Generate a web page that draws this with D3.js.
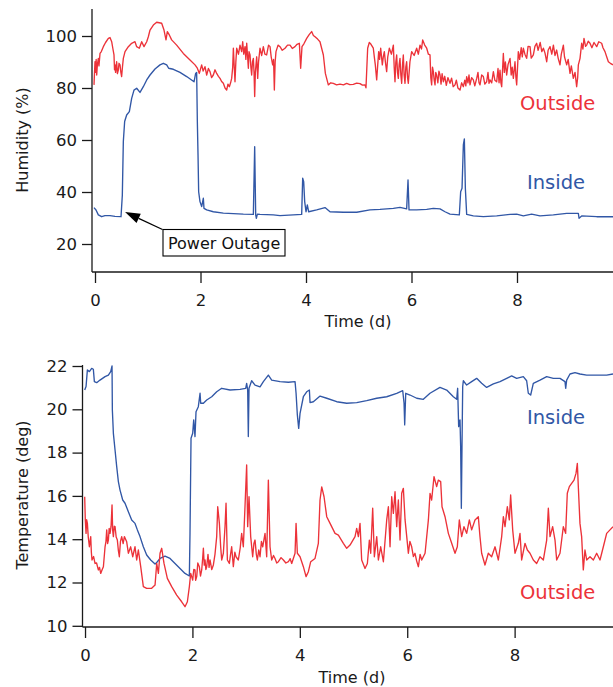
<!DOCTYPE html>
<html>
<head>
<meta charset="utf-8">
<script src="https://cdn.jsdelivr.net/npm/d3@7"></script>
<style>
  html, body { margin: 0; padding: 0; background: #fff; }
  svg { display: block; font-family: "DejaVu Sans", sans-serif; }
  .axis text { fill: #1a1a1a; }
</style>
</head>
<body>
<svg id="chart" width="613" height="687"></svg>
<script>
// ---- Humidity (%) vs time (days) ----
const humidityOutside = [
  [-0.019,81.2],[-0.005,88],[0,90.1],[0.012,86],[0.022,91],[0.032,85],[0.045,89],[0.063,91.4],[0.075,88.5],
  [0.095,93.3],[0.12,94],[0.158,95.9],[0.2,97.5],[0.253,99.1],[0.284,99.4],[0.316,97.8],[0.34,95],[0.36,92.7],
  [0.37,87],[0.379,88.9],[0.39,86],[0.41,90.1],[0.425,85.5],[0.442,86.9],[0.455,89.5],[0.474,88.9],[0.49,86],
  [0.505,84.4],[0.52,88],[0.537,91.4],[0.569,94],[0.632,95.9],
  [0.695,97.2],[0.758,97.8],[0.79,95.9],[0.84,95.3],[0.885,97.8],[0.929,95.9],[0.98,97.8],[1.011,99.7],[1.043,102.3],
  [1.106,104.2],[1.169,105.3],[1.264,104.9],[1.308,102.3],[1.346,98.5],[1.371,101.7],[1.409,100.4],[1.453,98.5],
  [1.548,96.5],[1.674,93.3],[1.801,90.8],[1.896,88.9],[1.94,87.6],[1.978,85.6],[2.022,88.9],[2.05,86.5],[2.085,88.2],
  [2.117,85],[2.15,87.5],[2.18,86.3],[2.21,84],[2.243,85],[2.275,87],[2.306,85.6],[2.34,84.5],[2.37,83.7],
  [2.4,82.5],[2.433,81.8],[2.465,80],[2.496,79.2],[2.52,81.5],[2.547,80.5],[2.57,82],[2.591,83.7],[2.61,88],
  [2.623,95.3],[2.64,88],[2.654,82.4],[2.67,90],[2.686,95.3],[2.72,93],[2.749,96.5],[2.78,94],[2.8,97.8],
  [2.82,93],[2.844,95.9],[2.86,91],[2.876,97.2],[2.89,93],[2.907,87.6],[2.92,94],[2.939,92.7],[2.955,88],
  [2.97,85],[2.985,90],[3.002,91.4],[3.015,86],[3.027,76.7],[3.04,86],[3.052,88.9],[3.065,92],[3.084,83.7],
  [3.1,90],[3.128,95.3],[3.16,92.5],[3.191,95.9],[3.22,93],[3.254,92.7],[3.29,96.5],[3.318,95.9],[3.34,92],
  [3.368,88.9],[3.385,91],[3.4,79.2],[3.415,90],[3.431,94],[3.47,96.5],[3.507,95.9],[3.55,94.5],[3.602,95.3],
  [3.65,96.5],[3.697,96.5],[3.74,95.2],[3.791,95.9],[3.83,96.8],[3.874,97.2],[3.899,87.6],[3.924,95.9],
  [3.96,97],[4.013,99.1],[4.06,100.5],[4.107,101.7],[4.14,100.2],[4.171,99.7],[4.22,98.8],[4.265,97.8],[4.329,92.7],
  [4.367,85.6],[4.423,81.2],[4.47,82],[4.518,81.8],[4.58,81.2],[4.645,81.5],[4.71,81.2],[4.771,81.8],[4.83,81.3],
  [4.897,81.4],[4.96,81.9],[5.024,81.7],[5.07,81.1],[5.118,81.2],[5.137,80.1],[5.169,95.3],[5.2,97.5],[5.232,96.8],
  [5.276,95.3],[5.295,92],[5.314,88.9],[5.34,83.1],[5.36,89],[5.378,94],[5.395,91],[5.416,95.3],[5.447,88.9],
  [5.465,92],[5.485,94],[5.505,90],[5.529,86.3],[5.55,92],[5.58,95.3],[5.62,93],[5.656,96.5],[5.672,88],
  [5.687,82.4],[5.703,90],[5.719,92.7],[5.735,86],[5.75,83.7],[5.766,89],[5.782,91.4],[5.798,85],[5.814,81.8],
  [5.83,89],[5.845,92.7],[5.86,85],[5.877,81.8],[5.892,88],[5.908,90.1],[5.925,84],[5.94,81.8],[5.97,90],
  [6.003,94],[6.05,92.5],[6.098,95.3],[6.13,93],[6.161,96.5],[6.19,95],[6.212,98.5],[6.25,96.5],[6.288,95.3],
  [6.32,93],[6.351,92.7],[6.366,84],[6.382,81.2],[6.398,88],[6.414,86.3],[6.43,83],[6.446,81.2],[6.46,86],
  [6.477,85],[6.5,82],[6.52,86.5],[6.541,85],[6.56,81.5],[6.58,85.5],[6.604,82.4],[6.63,84.5],[6.66,81],
  [6.69,84],[6.73,81.8],[6.76,83.8],[6.79,80.5],[6.825,81.2],[6.85,83],[6.88,80],[6.92,79.2],[6.95,82],
  [6.983,80.5],[7.01,83],[7.03,80.8],[7.046,84.4],[7.07,82],[7.09,85],[7.109,81.2],[7.14,84],[7.172,83.1],
  [7.2,80.8],[7.236,83.7],[7.26,86],[7.28,82],[7.299,81.2],[7.33,85],[7.362,84.4],[7.39,81.5],[7.425,82.4],
  [7.45,86],[7.47,81.8],[7.488,83.1],[7.52,82],[7.552,86.3],[7.58,83],[7.615,82.4],[7.64,87.5],[7.66,82],
  [7.678,86.9],[7.695,82],[7.71,80.5],[7.741,93.3],[7.76,86],[7.78,90],[7.804,85],[7.83,89],[7.868,91.4],
  [7.89,85],[7.91,88],[7.931,83.7],[7.962,90.1],[7.98,84],[7.994,81.2],[8.025,94],[8.05,91],[8.08,95.5],
  [8.1,92],[8.12,95.3],[8.15,93],[8.183,91.4],[8.21,96],[8.247,95.9],[8.27,91.5],[8.31,92.7],[8.34,96],
  [8.373,97.2],[8.4,94.5],[8.44,97.5],[8.47,94],[8.5,95.3],[8.53,93.5],[8.563,90.1],[8.59,94.5],[8.626,95.9],
  [8.66,93],[8.69,96.5],[8.72,92.5],[8.752,94.6],[8.78,91.5],[8.815,88.9],[8.84,93],[8.879,96.5],[8.9,92],
  [8.942,88.9],[8.97,91],[9.005,85.6],[9.03,88.5],[9.068,83.7],[9.1,86],[9.131,80.5],[9.15,84],[9.163,88.9],
  [9.195,91.4],[9.226,97.2],[9.25,95],[9.27,99.1],[9.3,96],[9.321,96.5],[9.35,98],[9.384,97.2],[9.42,95.5],
  [9.46,97.5],[9.511,95.9],[9.55,97.8],[9.605,97.2],[9.63,95.5],[9.668,94],[9.7,92],[9.732,90.1],[9.77,89.5],
  [9.82,88.9]
];

const humidityInside = [
  [-0.019,34],[0.019,33.1],[0.063,31.2],[0.126,30.5],[0.189,30.9],[0.284,30.9],[0.379,30.6],[0.493,30.5],[0.518,38.8],
  [0.537,59.4],[0.562,67.1],[0.6,69.6],[0.651,70.9],[0.695,76],[0.739,79.2],[0.79,79.9],[0.853,78.3],[0.916,80.5],
  [0.98,83.1],[1.043,85],[1.137,87.3],[1.232,88.9],[1.295,89.5],[1.359,88.9],[1.396,87.6],[1.485,87.2],[1.611,86],
  [1.738,84.4],[1.877,82.4],[1.908,85.6],[1.927,86],[1.94,67.1],[1.953,54.2],[1.965,40.1],[1.99,36.3],[2.022,34.4],
  [2.054,37.6],[2.066,33.7],[2.117,33.1],[2.243,32.4],[2.433,31.9],[2.623,31.7],[2.812,31.5],[3.002,31.4],[3.027,57.4],
  [3.046,31.2],[3.059,29.9],[3.078,31.5],[3.128,31.4],[3.381,31.2],[3.507,30.9],[3.76,31.2],[3.918,31.4],[3.937,45.3],
  [3.956,44],[3.975,36.3],[4.0,32.4],[4.025,35],[4.051,32.4],[4.202,33.1],[4.36,34],[4.455,32.4],[4.708,32.2],
  [4.961,32.2],[5.213,33.1],[5.403,33.3],[5.656,33.7],[5.782,34.1],[5.908,33.5],[5.934,44.6],[5.953,33.1],[6.098,33.1],
  [6.288,33.3],[6.414,33.7],[6.541,33.5],[6.635,32.4],[6.73,31.5],[6.907,31.2],[6.932,40.1],[6.958,41.4],[6.983,58.1],
  [7.002,60.4],[7.021,41.4],[7.046,31.4],[7.172,30.8],[7.362,30.5],[7.615,30.8],[7.868,31.4],[7.994,31.5],[8.12,30.8],
  [8.278,31.5],[8.436,30.8],[8.689,31.2],[8.942,31.8],[9.163,31.8],[9.176,29.9],[9.226,30.8],[9.511,30.5],[9.82,30.5]
];

// ---- Temperature (deg) vs time (days) ----
const temperatureInside = [
  [-0.006,20.89],[0.019,21.05],[0.044,21.82],[0.081,21.74],[0.124,21.89],[0.155,21.85],[0.174,21.28],[0.217,21.23],
  [0.279,21.35],[0.373,21.51],[0.435,21.58],[0.478,21.74],[0.503,22],[0.509,19.97],[0.528,18.89],[0.559,18.12],
  [0.59,17.35],[0.621,16.66],[0.652,16.27],[0.702,15.81],[0.745,15.66],[0.807,15.27],[0.869,14.89],[0.931,14.73],
  [0.975,14.43],[1.024,14.12],[1.086,13.65],[1.148,13.27],[1.223,13.04],[1.304,12.85],[1.347,12.96],[1.397,13.11],
  [1.49,13.22],[1.583,13.11],[1.676,12.88],[1.769,12.65],[1.862,12.42],[1.943,12.3],[1.955,14.27],[1.974,18.66],
  [2.005,18.89],[2.024,19.51],[2.048,18.74],[2.067,19.89],[2.11,20.12],[2.142,20.74],[2.154,20.28],[2.204,20.28],
  [2.266,20.43],[2.359,20.58],[2.452,20.81],[2.545,20.97],[2.7,20.89],[2.886,20.92],[2.992,20.97],[3.01,21.2],
  [3.029,20.89],[3.041,18.74],[3.054,20.97],[3.103,21.32],[3.166,21.12],[3.259,21.04],[3.321,21.28],[3.414,21.58],
  [3.476,21.35],[3.632,21.28],[3.787,21.25],[3.911,21.28],[3.93,20.74],[3.954,19.74],[3.979,19.12],[4.004,19.81],
  [4.066,20.58],[4.128,20.81],[4.178,20.89],[4.19,20.31],[4.252,20.35],[4.377,20.61],[4.501,20.51],[4.687,20.35],
  [4.873,20.28],[5.059,20.31],[5.245,20.4],[5.432,20.51],[5.618,20.58],[5.804,20.74],[5.916,20.86],[5.941,20.28],
  [5.953,19.28],[5.972,20.74],[6.052,20.66],[6.177,20.51],[6.3,20.46],[6.424,20.74],[6.61,21.01],[6.735,20.89],
  [6.859,20.58],[6.921,20.46],[6.939,20.97],[6.958,19.2],[6.983,19.51],[6.995,18.27],[7.008,15.43],[7.02,18.27],
  [7.033,21.04],[7.045,21.32],[7.107,21.12],[7.2,21.28],[7.293,21.43],[7.386,21.2],[7.479,21.01],[7.604,21.17],
  [7.728,21.28],[7.852,21.43],[7.945,21.54],[8.038,21.43],[8.162,21.51],[8.224,21.32],[8.255,20.74],[8.299,20.66],
  [8.348,21.2],[8.473,21.35],[8.597,21.51],[8.721,21.43],[8.845,21.43],[8.938,21.28],[8.951,20.97],[8.969,21.35],
  [9.031,21.63],[9.124,21.69],[9.217,21.63],[9.342,21.58],[9.528,21.58],[9.714,21.58],[9.832,21.63]
];

const temperatureOutside = [
  [-0.006,15.96],[0.005,14.9],[0.019,14.27],[0.03,14.9],[0.044,14.73],[0.06,14.1],[0.081,13.65],[0.106,14.12],
  [0.118,13.4],[0.13,13.04],[0.16,13.2],[0.186,12.88],[0.215,12.9],[0.248,12.58],[0.27,12.7],[0.292,12.42],
  [0.32,12.6],[0.342,12.73],[0.373,13.65],[0.39,13.9],[0.404,14.43],[0.42,13.8],[0.435,13.96],[0.45,14.5],
  [0.466,14.27],[0.485,14.6],[0.503,15.58],[0.515,14.4],[0.528,14.12],[0.545,14.6],[0.559,14.58],[0.58,14.1],
  [0.602,13.96],[0.62,13.5],[0.639,13.19],[0.66,13.9],[0.683,14.12],[0.71,13.8],[0.733,14.12],[0.776,13.88],
  [0.807,13.35],[0.85,13.65],[0.888,13.19],[0.931,13.65],[0.962,13.04],[0.993,13.5],[1.037,12.73],[1.086,11.81],
  [1.148,11.73],[1.241,11.73],[1.304,11.88],[1.335,12.88],[1.366,12.42],[1.397,13.35],[1.428,13.58],[1.471,12.88],
  [1.533,12.19],[1.614,11.81],[1.707,11.42],[1.8,11.11],[1.862,10.88],[1.906,11.11],[1.943,11.81],[1.968,12.42],
  [2.005,12.11],[2.025,12.6],[2.048,12.58],[2.06,12.1],[2.08,12.27],[2.1,12.9],[2.129,12.73],[2.15,12.3],
  [2.173,12.58],[2.19,13.1],[2.204,13.58],[2.22,12.8],[2.235,13.04],[2.25,12.6],[2.266,12.73],[2.29,13.3],
  [2.31,12.7],[2.328,13.04],[2.36,12.6],[2.39,12.81],[2.42,13.3],
  [2.452,14.12],[2.471,15.5],[2.502,14.73],[2.526,13.65],[2.545,13.04],[2.576,13.35],[2.607,14.58],[2.626,15.66],
  [2.651,13.04],[2.688,12.88],[2.71,13.3],[2.731,13.65],[2.762,12.73],[2.79,13.4],[2.812,13.19],[2.855,13.04],
  [2.89,13.6],[2.917,14.27],[2.948,13.65],[2.979,15.5],[3.01,17.43],[3.029,14.58],[3.054,15.96],[3.085,14.12],
  [3.122,13.19],[3.145,13.8],[3.166,13.96],[3.19,13.3],[3.209,13.04],[3.235,13.5],
  [3.259,13.19],[3.285,13.9],[3.309,13.65],[3.352,14.27],[3.383,13.19],[3.414,16.73],[3.445,13.65],[3.476,13.04],
  [3.51,13.25],[3.538,13.11],[3.57,12.9],[3.601,12.96],[3.65,13.15],[3.694,13.04],[3.74,12.9],[3.787,12.96],
  [3.82,13.1],[3.849,12.88],[3.911,13.35],[3.93,14.73],[3.954,13.35],[4.004,13.19],
  [4.066,12.73],[4.116,12.27],[4.159,12.5],[4.203,12.96],[4.283,13.11],[4.345,13.81],[4.376,15.81],[4.408,16.42],
  [4.451,15.96],[4.501,15.04],[4.563,14.73],[4.656,14.27],[4.718,14.19],[4.811,13.81],[4.873,13.58],[4.935,13.73],
  [5.028,14.12],[5.059,14.5],[5.09,14.12],[5.121,14.73],[5.152,13.04],[5.214,12.65],[5.258,12.88],[5.295,13.96],
  [5.32,13.35],[5.357,15.43],[5.388,13.19],[5.432,14.12],[5.463,13.04],[5.506,13.65],[5.556,12.96],[5.618,14.89],
  [5.649,15.5],[5.68,13.65],[5.711,15.96],[5.742,15.19],[5.773,16.19],[5.804,14.58],[5.835,15.81],[5.866,13.96],
  [5.897,16.12],[5.928,16.35],[5.96,14.89],[5.991,14.12],[6.021,13.35],[6.05,13.9],[6.083,13.65],[6.115,13.2],
  [6.145,13.35],[6.175,13.0],[6.208,12.73],[6.24,13.3],
  [6.27,13.04],[6.332,13.35],[6.394,14.89],[6.425,16.12],[6.455,15.81],[6.499,16.89],[6.548,16.43],[6.579,16.73],
  [6.623,16.66],[6.648,15.5],[6.704,15.04],[6.766,14.27],[6.828,13.81],[6.89,13.35],[6.933,13.65],[6.97,14.89],
  [7.014,14.12],[7.057,14.58],[7.107,14.27],[7.157,14.89],[7.2,14.43],[7.262,14.89],[7.324,15.04],[7.355,14.12],
  [7.386,13.35],[7.448,12.81],[7.51,13.35],[7.572,13.19],[7.635,13.65],[7.697,13.04],[7.759,14.12],[7.79,15.04],
  [7.821,14.58],[7.864,15.5],[7.901,14.89],[7.926,16.04],[7.964,14.43],[8.007,13.35],[8.069,13.81],[8.1,14.27],
  [8.131,13.04],[8.193,13.81],[8.237,13.5],[8.286,13.35],[8.348,13.04],[8.41,12.88],[8.472,13.19],[8.535,13.04],
  [8.597,13.96],[8.628,15.43],[8.659,14.12],[8.708,14.58],[8.752,13.96],[8.783,13.04],[8.845,13.35],[8.907,14.58],
  [8.95,14.27],[8.981,16.12],[9.019,16.43],[9.062,16.58],[9.106,16.73],[9.143,17.04],[9.168,17.5],[9.186,16.43],
  [9.217,14.73],[9.248,14.12],[9.279,12.58],[9.31,13.5],[9.342,13.04],[9.404,13.19],[9.466,13.04],[9.528,13.35],
  [9.59,13.04],[9.652,13.65],[9.714,14.27],[9.776,14.43],[9.832,14.58]
];

const timeTicks = [0, 2, 4, 6, 8];
const humidityTicks = [20, 40, 60, 80, 100];
const temperatureTicks = [10, 12, 14, 16, 18, 20, 22];

const RED = "#ec3239";
const BLUE = "#3157a6";
const INK = "#1a1a1a";

const svg = d3.select("#chart");

// Builds one panel: scales, axes, clipped traces, and returns the scales.
function panel(cfg) {
  const x = d3.scaleLinear().domain(cfg.xDomain).range([cfg.left, cfg.right]);
  const y = d3.scaleLinear().domain(cfg.yDomain).range([cfg.bottom, cfg.top]);
  const g = svg.append("g");

  const clipId = "clip-" + cfg.id;
  g.append("clipPath").attr("id", clipId)
    .append("rect")
    .attr("x", cfg.left).attr("y", cfg.top - 2)
    .attr("width", cfg.right - cfg.left).attr("height", cfg.axisY - cfg.top + 2);

  const line = d3.line().x(d => x(d[0])).y(d => y(d[1]));
  const traces = g.append("g").attr("clip-path", `url(#${clipId})`);
  cfg.series.forEach(s => {
    traces.append("path")
      .datum(s.data)
      .attr("d", line)
      .attr("fill", "none")
      .attr("stroke", s.color)
      .attr("stroke-width", 1.35)
      .attr("stroke-linejoin", "round");
  });

  // left axis
  const yAxis = d3.axisLeft(y).tickValues(cfg.yTicks).tickSize(10).tickPadding(5).tickSizeOuter(0);
  const ga = g.append("g").attr("class", "axis")
    .attr("transform", `translate(${cfg.left},0)`).call(yAxis);
  ga.select(".domain").remove();
  ga.selectAll("line").attr("stroke", INK).attr("stroke-width", 1.3);
  ga.selectAll("text").attr("font-size", 16.5).attr("font-family", "DejaVu Sans");
  g.append("line")
    .attr("x1", cfg.left).attr("x2", cfg.left)
    .attr("y1", cfg.top - 1).attr("y2", cfg.axisY)
    .attr("stroke", INK).attr("stroke-width", 1.3);

  // bottom axis
  const xAxis = d3.axisBottom(x).tickValues(timeTicks).tickSize(11).tickPadding(11).tickSizeOuter(0);
  const gb = g.append("g").attr("class", "axis")
    .attr("transform", `translate(0,${cfg.axisY})`).call(xAxis);
  gb.select(".domain").remove();
  gb.selectAll("line").attr("stroke", INK).attr("stroke-width", 1.3);
  gb.selectAll("text").attr("font-size", 16.5).attr("font-family", "DejaVu Sans");
  g.append("line")
    .attr("x1", cfg.left).attr("x2", cfg.right)
    .attr("y1", cfg.axisY).attr("y2", cfg.axisY)
    .attr("stroke", INK).attr("stroke-width", 1.3);

  // axis titles
  g.append("text")
    .attr("x", cfg.xTitle[0]).attr("y", cfg.xTitle[1])
    .attr("text-anchor", "middle").attr("font-size", 16).attr("fill", INK)
    .text("Time (d)");
  g.append("text")
    .attr("transform", `translate(${cfg.yTitle[0]},${cfg.yTitle[1]}) rotate(-90)`)
    .attr("text-anchor", "middle").attr("font-size", 16).attr("fill", INK)
    .text(cfg.yLabel);

  // series labels
  cfg.labels.forEach(l => {
    g.append("text")
      .attr("x", l.x).attr("y", l.y)
      .attr("font-size", 19.5).attr("fill", l.color)
      .text(l.text);
  });

  return { x, y, g };
}

const humidityPanel = panel({
  id: "humidity",
  xDomain: [-0.057, 9.82], yDomain: [10, 110],
  left: 92, right: 613, top: 10, bottom: 270, axisY: 272,
  yTicks: humidityTicks,
  series: [
    { data: humidityOutside, color: RED },
    { data: humidityInside, color: BLUE }
  ],
  xTitle: [358, 327], yTitle: [28, 140], yLabel: "Humidity (%)",
  labels: [
    { text: "Outside", x: 520, y: 110, color: RED },
    { text: "Inside", x: 527, y: 189, color: BLUE }
  ]
});

const temperaturePanel = panel({
  id: "temperature",
  xDomain: [-0.047, 9.832], yDomain: [10, 22],
  left: 82.5, right: 613, top: 366, bottom: 625.8, axisY: 627,
  yTicks: temperatureTicks,
  series: [
    { data: temperatureInside, color: BLUE },
    { data: temperatureOutside, color: RED }
  ],
  xTitle: [352, 683], yTitle: [28, 495], yLabel: "Temperature (deg)",
  labels: [
    { text: "Inside", x: 527, y: 424, color: BLUE },
    { text: "Outside", x: 520, y: 599, color: RED }
  ]
});

// Power outage annotation: arrow from the text box to the start of the humidity rise
const tip = [humidityPanel.x(0.57), humidityPanel.y(32.3)];
const tail = [162.5, 229.5];
const ang = Math.atan2(tip[1] - tail[1], tip[0] - tail[0]);
const headLen = 15, headHalf = 5;
const base = [tip[0] - headLen * Math.cos(ang), tip[1] - headLen * Math.sin(ang)];
const ann = svg.append("g");
ann.append("line")
  .attr("x1", tail[0]).attr("y1", tail[1]).attr("x2", base[0]).attr("y2", base[1])
  .attr("stroke", "#000").attr("stroke-width", 1.2);
ann.append("path")
  .attr("d", `M${tip[0]},${tip[1]}
    L${base[0] + headHalf * Math.sin(ang)},${base[1] - headHalf * Math.cos(ang)}
    L${base[0] - headHalf * Math.sin(ang)},${base[1] + headHalf * Math.cos(ang)}Z`)
  .attr("fill", "#000");
ann.append("rect")
  .attr("x", 163).attr("y", 229.5).attr("width", 122).attr("height", 26.5)
  .attr("fill", "#fff").attr("stroke", "#000").attr("stroke-width", 1.1);
ann.append("text")
  .attr("x", 168).attr("y", 249)
  .attr("font-size", 16).attr("fill", "#111")
  .text("Power Outage");
</script>
</body>
</html>
